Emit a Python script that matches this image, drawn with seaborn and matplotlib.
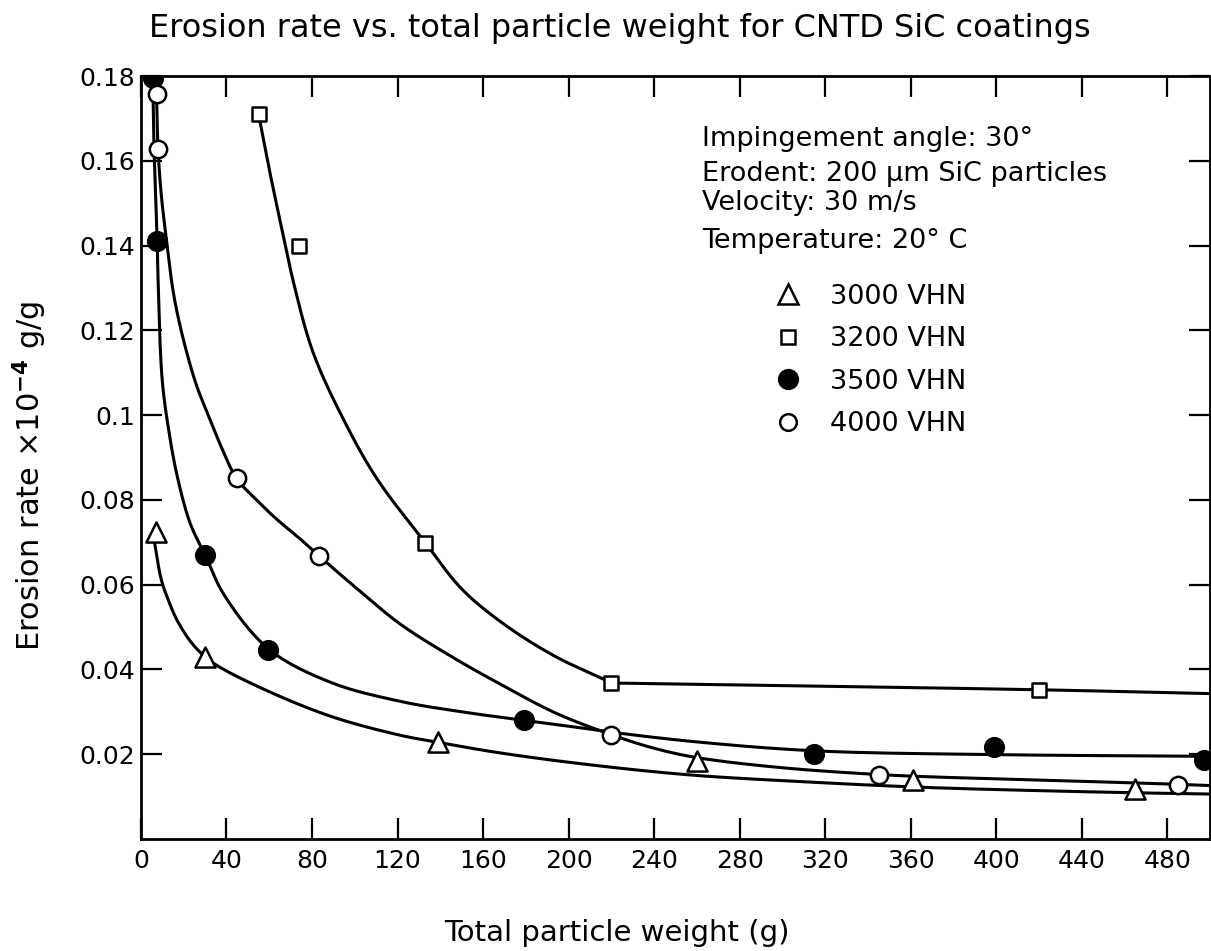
import numpy as np
import pandas as pd
import matplotlib
matplotlib.use("Agg")
import matplotlib.pyplot as plt
import seaborn as sns
from matplotlib.lines import Line2D

# ---------------- data ----------------
# measured points
t3000_x = [7, 30, 139, 260, 361, 465]
t3000_y = [0.0725, 0.043, 0.0228, 0.0185, 0.0138, 0.0117]

s3200_x = [55, 74, 133, 220, 420]
s3200_y = [0.171, 0.140, 0.0699, 0.0368, 0.0352]

c3500_x = [5.5, 7.6, 30, 59.5, 179, 315, 399, 497]
c3500_y = [0.1795, 0.141, 0.067, 0.0447, 0.028, 0.0200, 0.0216, 0.0186]

o4000_x = [7.3, 8, 44.7, 83.5, 220, 345, 485]
o4000_y = [0.1758, 0.1627, 0.0851, 0.0667, 0.0246, 0.0150, 0.0127]

# hand-drawn guide curves
crv3000_x = [6, 9.5, 12.7, 17, 23.8, 30, 36.3, 58, 89, 121, 139, 168, 210, 257, 310, 365, 420, 465, 500]
crv3000_y = [0.071, 0.0612, 0.0565, 0.0515, 0.0462, 0.043, 0.0407, 0.0352, 0.0289, 0.0245, 0.0228,
             0.0203, 0.0175, 0.0151, 0.0135, 0.0122, 0.0114, 0.0109, 0.0106]

crv3200_x = [55, 60, 65, 71.5, 80.5, 94.7, 110.5, 133, 150, 170, 194, 213, 220]
crv3200_y = [0.171, 0.158, 0.146, 0.131, 0.1148, 0.099, 0.0849, 0.0699, 0.059, 0.0506,
             0.043, 0.0385, 0.0368]
flat3200_x = [220, 420, 500]
flat3200_y = [0.0368, 0.0352, 0.0343]

crv3500_x = [5.5, 6, 7.6, 8, 9.9, 12.9, 17, 23, 30, 39, 60, 89, 121, 150, 179, 206, 220, 260, 315, 400, 500]
crv3500_y = [0.18, 0.165, 0.141, 0.132, 0.1085, 0.0967, 0.0855, 0.0745, 0.067, 0.0575, 0.0447,
             0.0369, 0.0325, 0.0300, 0.0280, 0.0262, 0.0252, 0.0229, 0.0208, 0.0199, 0.0195]

crv4000_x = [7.3, 8, 9.5, 12, 14.5, 17, 21.3, 26, 32.3, 38, 44.7, 54, 63.6, 74, 83.5, 100, 121,
             145, 170, 194, 220, 240, 260, 300, 345, 367, 420, 460, 485, 500]
crv4000_y = [0.1758, 0.1627, 0.152, 0.141, 0.131, 0.124, 0.1150, 0.107, 0.099, 0.092, 0.0851,
             0.080, 0.0754, 0.071, 0.0667, 0.0595, 0.0508, 0.0431, 0.036, 0.0297, 0.0246, 0.0214,
             0.0192, 0.0168, 0.0152, 0.0147, 0.0139, 0.0133, 0.0129, 0.0126]

x_ticks = [0, 40, 80, 120, 160, 200, 240, 280, 320, 360, 400, 440, 480]
x_tick_labels = ['0', '40', '80', '120', '160', '200', '240', '280', '320', '360', '400', '440', '480']
y_ticks = [0.02, 0.04, 0.06, 0.08, 0.10, 0.12, 0.14, 0.16, 0.18]
y_tick_labels = ['0.02', '0.04', '0.06', '0.08', '0.1', '0.12', '0.14', '0.16', '0.18']

series_labels = ['3000 VHN', '3200 VHN', '3500 VHN', '4000 VHN']

info_lines = ['Impingement angle: 30°',
              'Erodent: 200 μm SiC particles',
              'Velocity: 30 m/s',
              'Temperature: 20° C']

XMAX, YMAX = 500, 0.18


def smooth_path(xs, ys, n=16):
    """Render a hand-drawn guide line smoothly (centripetal Catmull-Rom through traced points)."""
    sx, sy = 1069.0 / XMAX, 761.0 / YMAX
    P = np.column_stack([np.asarray(xs, float) * sx, np.asarray(ys, float) * sy])
    if len(P) < 3:
        return P[:, 0] / sx, P[:, 1] / sy
    P = np.vstack([2 * P[0] - P[1], P, 2 * P[-1] - P[-2]])
    out = []
    for i in range(1, len(P) - 2):
        p0, p1, p2, p3 = P[i - 1], P[i], P[i + 1], P[i + 2]
        t0 = 0.0
        t1 = t0 + np.linalg.norm(p1 - p0) ** 0.5
        t2 = t1 + np.linalg.norm(p2 - p1) ** 0.5
        t3 = t2 + np.linalg.norm(p3 - p2) ** 0.5
        t = np.linspace(t1, t2, n, endpoint=False)[:, None]
        a1 = (t1 - t) / (t1 - t0) * p0 + (t - t0) / (t1 - t0) * p1
        a2 = (t2 - t) / (t2 - t1) * p1 + (t - t1) / (t2 - t1) * p2
        a3 = (t3 - t) / (t3 - t2) * p2 + (t - t2) / (t3 - t2) * p3
        b1 = (t2 - t) / (t2 - t0) * a1 + (t - t0) / (t2 - t0) * a2
        b2 = (t3 - t) / (t3 - t1) * a2 + (t - t1) / (t3 - t1) * a3
        c = (t2 - t) / (t2 - t1) * b1 + (t - t1) / (t2 - t1) * b2
        out.append(c)
    out.append(P[-2][None, :])
    out = np.vstack(out)
    return out[:, 0] / sx, out[:, 1] / sy


# ---------------- style ----------------
sns.set_theme(style="ticks")
plt.rcParams['font.family'] = ['DejaVu Sans']
plt.rcParams['mathtext.fontset'] = 'dejavusans'

fig = plt.figure(figsize=(12.11, 9.51), dpi=100)
ax = fig.add_axes([0.1164, 0.1178, 0.8828, 0.8022])

LW = 2.2
curves = [(crv3000_x, crv3000_y), (crv3200_x, crv3200_y), (flat3200_x, flat3200_y),
          (crv3500_x, crv3500_y), (crv4000_x, crv4000_y)]
for cx, cy in curves:
    px, py = smooth_path(cx, cy)
    sns.lineplot(x=px, y=py, ax=ax, color='black', lw=LW, sort=False,
                 estimator=None, legend=False, solid_joinstyle='round',
                 solid_capstyle='round', zorder=2)

MEW = 1.8
sns.scatterplot(x=t3000_x, y=t3000_y, ax=ax, marker='^', s=210, facecolor='white',
                edgecolor='black', linewidth=MEW, zorder=3, legend=False)
sns.scatterplot(x=s3200_x, y=s3200_y, ax=ax, marker='s', s=105, facecolor='white',
                edgecolor='black', linewidth=MEW, zorder=3, legend=False)
sns.scatterplot(x=c3500_x, y=c3500_y, ax=ax, marker='o', s=180, facecolor='black',
                edgecolor='black', linewidth=MEW, zorder=3, legend=False)
sns.scatterplot(x=o4000_x, y=o4000_y, ax=ax, marker='o', s=155, facecolor='white',
                edgecolor='black', linewidth=MEW, zorder=3, legend=False)

ax.set_xlim(0, XMAX)
ax.set_ylim(0, YMAX)
ax.set_xticks(x_ticks)
ax.set_xticklabels(x_tick_labels)
ax.set_yticks(y_ticks)
ax.set_yticklabels(y_tick_labels)
ax.tick_params(direction='in', length=15, width=1.6, top=True, right=True,
               labelsize=18, colors='black')
ax.tick_params(axis='x', pad=7)
ax.tick_params(axis='y', pad=4)
for sp in ax.spines.values():
    sp.set_linewidth(2.0)
    sp.set_color('black')
    sp.set_visible(True)
ax.set_xlabel('')
ax.set_ylabel('')

# info block
info_y = [0.918, 0.872, 0.833, 0.784]
for txt, yy in zip(info_lines, info_y):
    ax.text(0.525, yy, txt, transform=ax.transAxes, fontsize=19.5, ha='left', va='center',
            color='black')

# legend
handles = [
    Line2D([], [], ls='none', marker='^', ms=14.5, mfc='white', mec='black', mew=MEW),
    Line2D([], [], ls='none', marker='s', ms=10.5, mfc='white', mec='black', mew=MEW),
    Line2D([], [], ls='none', marker='o', ms=13.5, mfc='black', mec='black', mew=MEW),
    Line2D([], [], ls='none', marker='o', ms=12, mfc='white', mec='black', mew=MEW),
]
ax.legend(handles, series_labels, loc='upper left', bbox_to_anchor=(0.5926, 0.728),
          frameon=False, fontsize=19.5, handlelength=1.0, handletextpad=1.04,
          labelspacing=0.61, borderpad=0, borderaxespad=0, labelcolor='black')

fig.text(0.512, 1 - 28 / 951, 'Erosion rate vs. total particle weight for CNTD SiC coatings',
         ha='center', va='center', fontsize=23, color='black')
fig.text(617 / 1211, 1 - 933 / 951, 'Total particle weight (g)', ha='center', va='center',
         fontsize=21, color='black')
fig.text(30 / 1211, 1 - 476 / 951, r'Erosion rate $\times10^{\mathbf{-4}}$ g/g', ha='center',
         va='center', rotation=90, fontsize=22, color='black')

fig.savefig('out.png', dpi=100, facecolor='white')
